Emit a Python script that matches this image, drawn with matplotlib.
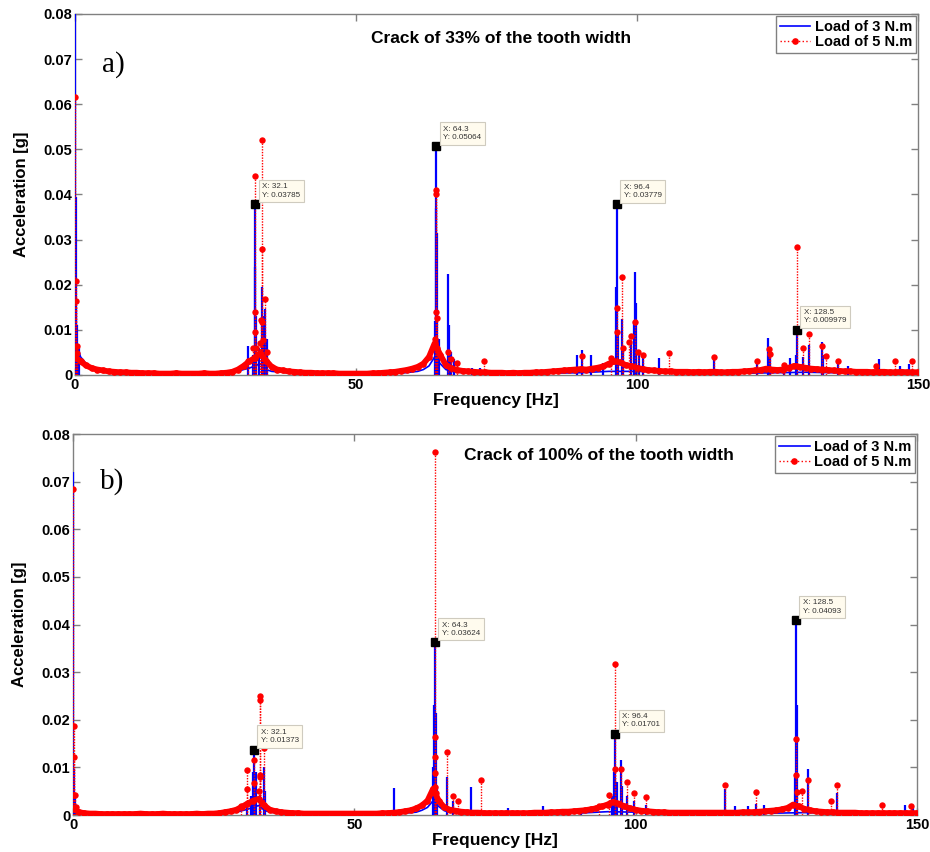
import numpy as np
import matplotlib
matplotlib.use("Agg")
import matplotlib.pyplot as plt

plt.rcParams['font.family'] = ['Liberation Sans', 'DejaVu Sans']

# ---------------- data: panel a) crack 33% ----------------
base_freq = list(range(0, 151))  # 1 Hz grid for the red noise floor

red_base_a = [
    0.0040, 0.0030, 0.0021, 0.0015, 0.0012, 0.0010, 0.0008, 0.0007, 0.0006, 0.0006,
    0.0005, 0.0005, 0.0004, 0.0004, 0.0004, 0.0003, 0.0003, 0.0003, 0.0004, 0.0003,
    0.0003, 0.0003, 0.0003, 0.0004, 0.0003, 0.0003, 0.0004, 0.0005, 0.0007, 0.0012,
    0.0020, 0.0030, 0.0038, 0.0048, 0.0032, 0.0018, 0.0012, 0.0010, 0.0008, 0.0007,
    0.0006, 0.0005, 0.0005, 0.0004, 0.0004, 0.0004, 0.0004, 0.0003, 0.0003, 0.0003,
    0.0003, 0.0003, 0.0003, 0.0004, 0.0004, 0.0005, 0.0006, 0.0007, 0.0009, 0.0011,
    0.0014, 0.0018, 0.0025, 0.0040, 0.0070, 0.0045, 0.0022, 0.0015, 0.0011, 0.0009,
    0.0008, 0.0007, 0.0006, 0.0006, 0.0005, 0.0005, 0.0005, 0.0004, 0.0005, 0.0004,
    0.0005, 0.0005, 0.0006, 0.0006, 0.0007, 0.0008, 0.0009, 0.0010, 0.0011, 0.0012,
    0.0013, 0.0012, 0.0014, 0.0016, 0.0019, 0.0025, 0.0030, 0.0028, 0.0022, 0.0020,
    0.0016, 0.0013, 0.0011, 0.0010, 0.0009, 0.0008, 0.0008, 0.0007, 0.0007, 0.0007,
    0.0006, 0.0007, 0.0006, 0.0007, 0.0007, 0.0006, 0.0006, 0.0007, 0.0007, 0.0008,
    0.0009, 0.0010, 0.0011, 0.0014, 0.0012, 0.0011, 0.0012, 0.0016, 0.0020, 0.0018,
    0.0016, 0.0014, 0.0013, 0.0012, 0.0011, 0.0010, 0.0009, 0.0008, 0.0008, 0.0007,
    0.0007, 0.0007, 0.0006, 0.0007, 0.0007, 0.0006, 0.0006, 0.0007, 0.0006, 0.0006,
    0.0006,
]

blue_base_freq = [0, 0.5, 1, 2, 3, 5, 8, 12, 20, 27,
                  29, 30, 31, 32, 33, 34, 35, 36, 38, 42,
                  50, 58, 61, 62, 63, 64, 65, 66, 67, 69,
                  75, 85, 90, 95, 100, 110, 120, 125, 130, 140,
                  150]
blue_base_a = [0.0080, 0.0060, 0.0040, 0.0025, 0.0018, 0.0012, 0.0008, 0.0005, 0.0003, 0.0004,
               0.0008, 0.0012, 0.0015, 0.0020, 0.0025, 0.0012, 0.0008, 0.0007, 0.0005, 0.0004,
               0.0003, 0.0004, 0.0008, 0.0012, 0.0020, 0.0040, 0.0025, 0.0012, 0.0008, 0.0005,
               0.0003, 0.0004, 0.0005, 0.0008, 0.0008, 0.0004, 0.0004, 0.0005, 0.0006, 0.0004,
               0.0003]

blue_peak_f_a = [0.0, 0.1, 0.2, 0.4, 0.7, 30.8, 31.6, 32.0, 32.1, 32.3, 32.7, 33.2, 33.4, 33.9, 34.1,
                 64.0, 64.2, 64.3, 64.5, 64.7, 66.4, 66.6, 67.0, 67.5, 70.6, 72.1, 74.3,
                 89.3, 90.3, 91.9, 94.0, 96.2, 96.4, 96.6, 97.4, 97.6, 98.9, 99.4, 99.6, 99.8,
                 100.3, 101.0, 103.9, 113.8, 121.3, 123.4, 123.6, 126.2, 127.2, 128.3, 128.5,
                 129.5, 130.6, 133.0, 133.2, 135.8, 137.5, 143.0, 146.8, 148.5]
blue_peak_a_a = [0.0850, 0.0394, 0.0150, 0.0110, 0.0060, 0.0065, 0.0045, 0.0240, 0.03785, 0.0130, 0.0060,
                 0.0194, 0.0130, 0.0147, 0.0080,
                 0.0120, 0.0370, 0.05064, 0.0315, 0.0080, 0.0224, 0.0110, 0.0050, 0.0035, 0.0015,
                 0.0015, 0.0012,
                 0.0044, 0.0055, 0.0044, 0.0027, 0.0196, 0.03779, 0.0100, 0.0124, 0.0060, 0.0070,
                 0.0120, 0.0229, 0.0160,
                 0.0050, 0.0045, 0.0037, 0.0035, 0.0025, 0.0081, 0.0050, 0.0020, 0.0037, 0.0045,
                 0.009979, 0.0040, 0.0067, 0.0072, 0.0045, 0.0035, 0.0020, 0.0035, 0.0020, 0.0025]

red_peak_f_a = [0.0, 0.1, 0.2, 0.3, 0.4, 30.8, 31.6, 32.0, 32.1, 32.1, 32.2, 32.9, 33.1, 33.2, 33.2,
                33.3, 33.5, 33.9, 34.2,
                64.1, 64.2, 64.3, 64.3, 64.4, 64.5, 66.4, 67.0, 67.9, 72.7,
                90.3, 95.4, 96.4, 96.5, 97.4, 97.6, 98.6, 98.9, 99.6, 100.2, 101.0, 105.7,
                113.8, 121.3, 123.5, 123.6, 126.2, 128.5, 129.5, 130.6, 132.9, 133.6, 135.8,
                142.5, 146.0, 149.0]
red_peak_a_a = [0.0615, 0.0209, 0.0165, 0.0065, 0.0048, 0.0030, 0.0060, 0.0095, 0.0440, 0.0140, 0.0060,
                0.0070, 0.0122, 0.0520, 0.0280,
                0.0118, 0.0078, 0.0169, 0.0050,
                0.0080, 0.0140, 0.0410, 0.0401, 0.0127, 0.0059, 0.0052, 0.0035, 0.0027, 0.0030,
                0.0043, 0.0037, 0.0148, 0.0095, 0.0216, 0.0060, 0.0074, 0.0087, 0.0118, 0.0050,
                0.0044, 0.0049,
                0.0040, 0.0030, 0.0058, 0.0047, 0.0022, 0.0283, 0.0060, 0.0090, 0.0064, 0.0041,
                0.0030, 0.0020, 0.0032, 0.0030]

tip_x_a = [32.1, 64.3, 96.4, 128.5]
tip_y_a = [0.03785, 0.05064, 0.03779, 0.009979]

# ---------------- data: panel b) crack 100% ----------------
red_base_b = [
    0.0015, 0.0006, 0.0004, 0.0003, 0.0003, 0.0002, 0.0002, 0.0002, 0.0002, 0.0002,
    0.0002, 0.0002, 0.0003, 0.0002, 0.0002, 0.0002, 0.0003, 0.0002, 0.0002, 0.0002,
    0.0002, 0.0002, 0.0003, 0.0002, 0.0003, 0.0003, 0.0004, 0.0006, 0.0008, 0.0011,
    0.0017, 0.0024, 0.0030, 0.0034, 0.0020, 0.0011, 0.0008, 0.0006, 0.0005, 0.0004,
    0.0004, 0.0003, 0.0003, 0.0003, 0.0003, 0.0003, 0.0003, 0.0003, 0.0003, 0.0003,
    0.0003, 0.0003, 0.0003, 0.0003, 0.0003, 0.0004, 0.0004, 0.0005, 0.0006, 0.0008,
    0.0010, 0.0014, 0.0020, 0.0030, 0.0055, 0.0030, 0.0016, 0.0011, 0.0009, 0.0007,
    0.0006, 0.0005, 0.0005, 0.0004, 0.0004, 0.0004, 0.0004, 0.0004, 0.0004, 0.0004,
    0.0004, 0.0004, 0.0005, 0.0005, 0.0005, 0.0006, 0.0006, 0.0007, 0.0007, 0.0008,
    0.0009, 0.0010, 0.0012, 0.0014, 0.0018, 0.0022, 0.0028, 0.0024, 0.0018, 0.0014,
    0.0011, 0.0009, 0.0008, 0.0007, 0.0006, 0.0006, 0.0005, 0.0005, 0.0005, 0.0005,
    0.0005, 0.0005, 0.0005, 0.0005, 0.0005, 0.0005, 0.0005, 0.0005, 0.0005, 0.0006,
    0.0006, 0.0006, 0.0007, 0.0008, 0.0009, 0.0010, 0.0012, 0.0015, 0.0022, 0.0018,
    0.0013, 0.0010, 0.0008, 0.0007, 0.0006, 0.0006, 0.0005, 0.0005, 0.0005, 0.0005,
    0.0004, 0.0004, 0.0004, 0.0004, 0.0004, 0.0004, 0.0004, 0.0004, 0.0004, 0.0004,
    0.0004,
]

blue_base_b = [0.0040, 0.0020, 0.0010, 0.0006, 0.0004, 0.0003, 0.0002, 0.0002, 0.0002, 0.0003,
               0.0006, 0.0009, 0.0012, 0.0016, 0.0020, 0.0010, 0.0006, 0.0005, 0.0004, 0.0003,
               0.0002, 0.0003, 0.0006, 0.0010, 0.0016, 0.0030, 0.0018, 0.0009, 0.0006, 0.0004,
               0.0003, 0.0003, 0.0004, 0.0007, 0.0006, 0.0003, 0.0003, 0.0004, 0.0005, 0.0003,
               0.0002]

blue_peak_f_b = [0.0, 0.1, 0.3, 30.9, 31.6, 32.0, 32.1, 32.5, 33.2, 33.9, 34.1,
                 57.0, 64.0, 64.2, 64.3, 64.5, 64.7, 66.4, 67.5, 70.7, 77.4, 83.6, 90.2,
                 95.8, 96.2, 96.4, 96.6, 97.4, 97.6, 98.5, 99.7, 101.8,
                 115.8, 117.6, 119.9, 121.4, 122.8, 128.3, 128.5, 128.6, 130.6, 135.8,
                 147.9, 149.3]
blue_peak_a_b = [0.0721, 0.0096, 0.0040, 0.0030, 0.0040, 0.0090, 0.01373, 0.0091, 0.0040, 0.0101, 0.0050,
                 0.0056, 0.0100, 0.0230, 0.03624, 0.0214, 0.0060, 0.0080, 0.0030, 0.0059, 0.0015,
                 0.0019, 0.0015,
                 0.0040, 0.0090, 0.01701, 0.0070, 0.0115, 0.0060, 0.0040, 0.0030, 0.0020,
                 0.0054, 0.0019, 0.0018, 0.0024, 0.0021, 0.0080, 0.04093, 0.0230, 0.0096, 0.0047,
                 0.0020, 0.0015]

red_peak_f_b = [0.0, 0.1, 0.2, 0.3, 0.5, 29.9, 30.9, 30.9, 32.1, 32.1, 33.0, 33.2, 33.2, 33.3, 33.3,
                33.9, 64.3, 64.3, 64.3, 64.4, 64.4, 64.5, 66.4, 67.5, 68.5, 72.5,
                93.5, 95.2, 96.4, 96.4, 97.4, 98.5, 99.7, 101.8,
                115.8, 121.4, 128.5, 128.5, 128.6, 129.5, 130.6, 134.7, 135.8, 143.7, 149.0]
red_peak_a_b = [0.0685, 0.0187, 0.0122, 0.0041, 0.0017, 0.0019, 0.0094, 0.0054, 0.0115, 0.0068,
                0.0050, 0.0250, 0.0241, 0.0084, 0.0080,
                0.0141, 0.0762, 0.0164, 0.0122, 0.0088, 0.0059, 0.0046, 0.0133, 0.0040, 0.0029,
                0.0073,
                0.0018, 0.0042, 0.0317, 0.0097, 0.0096, 0.0069, 0.0046, 0.0038,
                0.0063, 0.0049, 0.0160, 0.0085, 0.0049, 0.0051, 0.0073, 0.0029, 0.0062, 0.0022,
                0.0019]

tip_x_b = [32.1, 64.3, 96.4, 128.5]
tip_y_b = [0.01373, 0.03624, 0.01701, 0.04093]

series_labels = ['Load of 3 N.m', 'Load of 5 N.m']
x_ticks = [0, 50, 100, 150]
y_ticks = [0, 0.01, 0.02, 0.03, 0.04, 0.05, 0.06, 0.07, 0.08]
y_ticklabels = ['0', '0.01', '0.02', '0.03', '0.04', '0.05', '0.06', '0.07', '0.08']

BLUE = '#0000FF'
RED = '#FF0000'
GRAY = '#808080'

fig = plt.figure(figsize=(9.30, 8.52), dpi=100)
ax_a = fig.add_axes([0.0806, 0.5599, 0.9064, 0.4237])
ax_b = fig.add_axes([0.0785, 0.0434, 0.9075, 0.4472])


def draw_panel(ax, red_base, blue_base, bpf, bpa, rpf, rpa, tipx, tipy, title, tag, title_x, title_y, tag_y):
    # blue series (3 N.m)
    ax.plot(blue_base_freq, blue_base, color=BLUE, lw=1.2, zorder=3, label=series_labels[0])
    ax.vlines(bpf, 0, bpa, colors=BLUE, lw=1.6, zorder=3)
    # red series (5 N.m): densely sampled noise floor -> merged marker band
    ax.plot(base_freq, red_base, color=RED, ls='-', lw=4.2, solid_capstyle='round', zorder=4)
    ax.plot(base_freq, red_base, color=RED, ls=':', lw=1.0, marker='o', ms=4.8, mew=0,
            zorder=4, label=series_labels[1])
    ax.vlines(rpf, 0, rpa, colors=RED, linestyles=(0, (1, 1)), lw=1.0, zorder=4)
    ax.plot(rpf, rpa, ls='none', marker='o', ms=4.6, mew=0, color=RED, zorder=4)

    # data tips
    for x, y in zip(tipx, tipy):
        ax.plot([x], [y], ls='none', marker='s', ms=5.5, color='black', zorder=6)
        ax.annotate(f'X: {x:g}\nY: {y:.4g}', xy=(x, y), xytext=(5, 4), textcoords='offset points',
                    ha='left', va='bottom', fontsize=5.8, color='#333333', linespacing=1.25,
                    bbox=dict(boxstyle='square,pad=0.45', fc='#FFFBEE', ec='#CFCBBF', lw=0.8),
                    zorder=7)

    ax.set_xlim(0, 150)
    ax.set_ylim(0, 0.08)
    ax.set_xticks(x_ticks)
    ax.set_xticklabels([str(v) for v in x_ticks])
    ax.set_yticks(y_ticks)
    ax.set_yticklabels(y_ticklabels)
    ax.tick_params(direction='in', top=True, right=True, length=5, width=1, color=GRAY,
                   labelsize=10.5, pad=2)
    for lab in ax.get_xticklabels() + ax.get_yticklabels():
        lab.set_fontweight('bold')
    for sp in ax.spines.values():
        sp.set_color(GRAY)
        sp.set_linewidth(1.0)
    ax.set_xlabel('Frequency [Hz]', fontsize=12.5, fontweight='bold', labelpad=1)
    ax.set_ylabel('Acceleration [g]', fontsize=12, fontweight='bold', labelpad=10)
    ax.text(title_x, title_y, title, transform=ax.transAxes,
            ha='center', va='center', fontsize=12.5, fontweight='bold')
    ax.text(0.032, tag_y, tag, transform=ax.transAxes, ha='left', va='center',
            fontsize=21, family='Liberation Serif')
    leg = ax.legend(loc='upper right', prop={'weight': 'bold', 'size': 10.5},
                    frameon=True, fancybox=False, framealpha=1, edgecolor=GRAY,
                    borderaxespad=0.15, handlelength=2.1, handletextpad=0.3,
                    borderpad=0.25, labelspacing=0.1)
    leg.get_frame().set_linewidth(1.0)
    leg.set_zorder(8)


draw_panel(ax_a, red_base_a, blue_base_a, blue_peak_f_a, blue_peak_a_a, red_peak_f_a, red_peak_a_a,
           tip_x_a, tip_y_a, 'Crack of 33% of the tooth width', 'a)', 0.506, 0.933, 0.859)
draw_panel(ax_b, red_base_b, blue_base_b, blue_peak_f_b, blue_peak_a_b, red_peak_f_b, red_peak_a_b,
           tip_x_b, tip_y_b, 'Crack of 100% of the tooth width', 'b)', 0.623, 0.943, 0.875)

fig.savefig('out.png', dpi=100)
